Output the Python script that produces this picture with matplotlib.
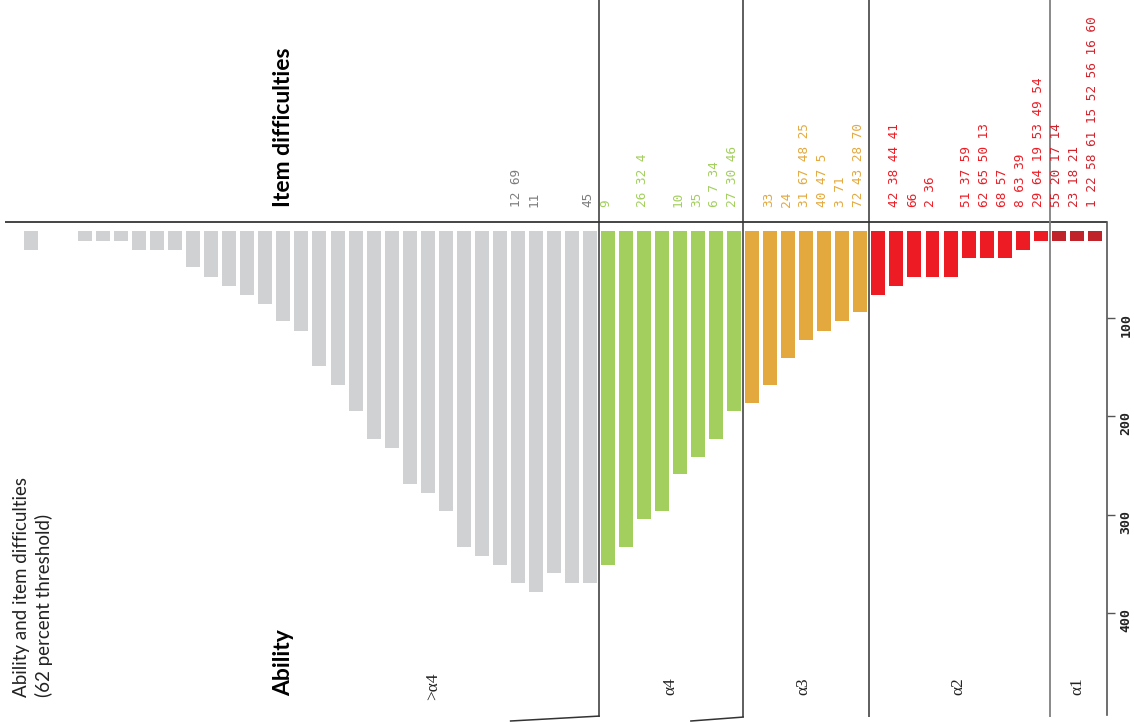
import numpy as np
import matplotlib
matplotlib.use("Agg")
import matplotlib.pyplot as plt

# ability distribution, bar ends (None = empty column)
gray_vals = [30, None, None, 21, 21, 21, 30, 30, 30, 48, 58, 67, 76, 85, 103, 113,
             149, 168, 195, 223, 232, 269, 278, 296, 333, 342, 351, 370, 379, 360, 370, 370]
green_vals = [351, 333, 305, 296, 259, 241, 223, 195]
orange_vals = [186, 168, 140, 122, 113, 103, 94]
red_vals = [76, 67, 58, 58, 58, 39, 39, 39, 30, 21]
darkred_vals = [21, 21, 21]
bar_base = 11

# item difficulties: column -> item numbers
item_cols = [27, 28, 31, 32, 34, 36, 37, 38, 39, 41, 42, 43, 44, 45, 46,
             48, 49, 50, 52, 53, 54, 55, 56, 57, 58, 59]
item_labels = ["12 69", "11", "45", "9", "26 32 4", "10", "35", "6 7 34", "27 30 46",
               "33", "24", "31 67 48 25", "40 47 5", "3 71", "72 43 28 70",
               "42 38 44 41", "66", "2 36", "51 37 59", "62 65 50 13", "68 57",
               "8 63 39", "29 64 19 53 49 54", "55 20 17 14", "23 18 21",
               "1 22 58 61 15 52 56 16 60"]

group_names = [">\u03b14", "\u03b14", "\u03b13", "\u03b12", "\u03b11"]
group_bounds = [31.5, 39.5, 46.5, 56.5]
scale_ticks = [100, 200, 300, 400]

colors = ["#d0d1d3", "#a3cf5e", "#e4a93e", "#ed1c24", "#c1232b"]
label_colors = ["#7d7d7d", "#a3cf5e", "#e4a93e", "#ed1c24", "#d2222b"]

W, H = 1134, 722
fig = plt.figure(figsize=(W / 100, H / 100), dpi=100)

pitch = 18.03
x0 = 31
y0 = 220.2
ys = 0.981
ax = fig.add_axes([0, 0, 1107 / W, 1])
ax.set_xlim((0 - x0) / pitch, (1107 - x0) / pitch)
ax.set_ylim((H - y0) / ys, (0 - y0) / ys)

series = [gray_vals, green_vals, orange_vals, red_vals, darkred_vals]
start = 0
for vals, c in zip(series, colors):
    cols = [start + i for i, v in enumerate(vals) if v is not None]
    ends = np.array([v for v in vals if v is not None])
    ax.bar(cols, ends - bar_base, bottom=bar_base, width=0.776, color=c, linewidth=0)
    start += len(vals)


def group_of(col):
    g = 0
    for b in group_bounds:
        if col > b:
            g += 1
    return g


for col, txt in zip(item_cols, item_labels):
    ax.text(col - 0.1, -13.5, txt, rotation=90, ha="center", va="bottom",
            family="DejaVu Sans Mono", fontsize=9.2, color=label_colors[group_of(col)])

# baseline and group dividers
ax.hlines(1.8, (5 - x0) / pitch, (1107 - x0) / pitch, color="#444444", lw=1.4)
ax.vlines(group_bounds[:3], -230, 506, color="#333333", lw=1.1)
ax.vlines(group_bounds[3:], -230, 506, color="#808080", lw=1.3)
ax.plot([group_bounds[0], 26.6], [505.5, 510.5], color="#333333", lw=1.1)
ax.plot([group_bounds[1], 36.6], [506.5, 510.5], color="#333333", lw=1.1)

for sp in ["top", "left", "bottom"]:
    ax.spines[sp].set_visible(False)
ax.spines["right"].set_bounds(1.8, 504)
ax.spines["right"].set_color("#555555")
ax.spines["right"].set_linewidth(1.2)
ax.set_xticks([])
ax.yaxis.tick_right()
ax.set_yticks(scale_ticks)
ax.tick_params(axis="y", direction="out", length=6, width=1, color="#555555",
               labelrotation=90, pad=3, labelsize=9.5)
for lbl in ax.get_yticklabels():
    lbl.set_fontfamily("DejaVu Sans Mono")
    lbl.set_fontweight("bold")
    lbl.set_color("#222222")
ax.patch.set_alpha(0)


def fx(px):
    return px / W


def fy(py):
    return 1 - py / H


group_centers = [433, 670, 803, 958, 1077]
for name, cx in zip(group_names, group_centers):
    fig.text(fx(cx), fy(686), name, rotation=90, ha="center", va="center",
             family="Liberation Serif", fontsize=12.5, color="#222222")

fig.text(fx(284), fy(207), "Item difficulties", rotation=90, ha="center", va="bottom",
         family="Lato", fontweight="bold", fontsize=16.5, color="black")
fig.text(fx(284), fy(696), "Ability", rotation=90, ha="center", va="bottom",
         family="Lato", fontweight="bold", fontsize=16.5, color="black")
fig.text(fx(13), fy(697), "Ability and item difficulties\n(62 percent threshold)",
         rotation=90, ha="left", va="bottom", multialignment="left",
         family="Lato", fontsize=13.5, color="#222222", linespacing=1.3)

fig.savefig("out.png", dpi=100)
